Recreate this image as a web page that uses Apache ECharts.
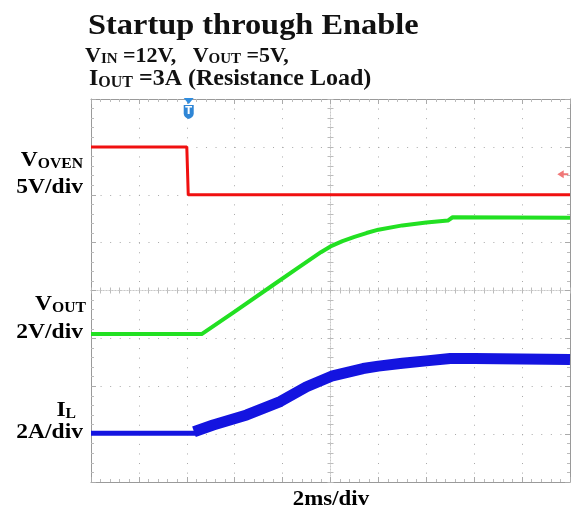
<!DOCTYPE html>
<html>
<head>
<meta charset="utf-8">
<script src="https://cdn.jsdelivr.net/npm/echarts@6/dist/echarts.min.js"></script>
<style>
html, body { margin: 0; padding: 0; background: #fff; }
#main { width: 573px; height: 510px; }
</style>
</head>
<body>
<div id="main"></div>
<script>
// x = time in divisions (2ms/div), y = level in divisions from screen bottom
var vovenTime = [0, 2.0, 2.03, 10];
var vovenLevel = [7.0, 7.0, 6.0, 6.0];

var voutTime = [0, 2.31, 3.0, 3.81, 4.29, 4.8, 5.0, 5.25, 5.5, 5.75, 6.0, 6.5, 7.0, 7.45, 7.55, 10];
var voutLevel = [3.09, 3.09, 3.56, 4.12, 4.45, 4.8, 4.92, 5.03, 5.12, 5.2, 5.27, 5.36, 5.42, 5.46, 5.53, 5.52];

var ilFlatTime = [0, 2.2];
var ilFlatLevel = [1.02, 1.02];
var ilTime = [2.15, 2.55, 3.25, 3.95, 4.5, 5.02, 5.68, 6.0, 6.5, 7.0, 7.5, 8, 9, 10];
var ilLevel = [1.05, 1.19, 1.40, 1.68, 1.99, 2.21, 2.37, 2.42, 2.48, 2.53, 2.58, 2.58, 2.57, 2.56];

var triggerTime = 2.04;
var refMarker = [9.85, 6.43];

function pairs(xs, ys) {
    return xs.map(function (x, i) { return [x, ys[i]]; });
}

var chart = echarts.init(document.getElementById('main'));

var serif = "'Liberation Serif', 'Times New Roman', serif";
var gridBox = { left: 91, top: 99, width: 479, height: 383 };

function borderAxis(pos, max, split) {
    return {
        type: 'value', gridIndex: 0, position: pos, min: 0, max: max, interval: 1,
        axisLine: { show: true, onZero: false, lineStyle: { color: '#9a9a9a', width: 1 } },
        axisTick: { show: true, inside: true, length: 5, lineStyle: { color: '#aaaaaa' } },
        minorTick: { show: true, splitNumber: 5, length: 3, lineStyle: { color: '#bbbbbb' } },
        splitLine: { show: split, lineStyle: { color: '#a8a8a8', width: 1, type: [1, 8.58] } },
        axisLabel: { show: false }
    };
}

function centerAxis(pos, half) {
    return {
        type: 'value', gridIndex: 1, position: pos, min: -half, max: half, interval: 1,
        axisLine: { show: true, onZero: true, lineStyle: { color: '#c8c8c8', width: 1, type: [1, 2] } },
        axisTick: { show: true, inside: false, length: 3, lineStyle: { color: '#b8b8b8' } },
        minorTick: { show: true, splitNumber: 5, length: 3, lineStyle: { color: '#bcbcbc' } },
        splitLine: { show: false },
        axisLabel: { show: false }
    };
}

var bold = function (size) {
    return { fontFamily: serif, fontWeight: 'bold', fontSize: size, color: '#111', verticalAlign: 'bottom' };
};

var option = {
    animation: false,
    backgroundColor: '#fff',
    grid: [
        Object.assign({}, gridBox),
        Object.assign({}, gridBox)
    ],
    xAxis: [
        borderAxis('bottom', 10, true),
        borderAxis('top', 10, false),
        centerAxis('bottom', 5),
        centerAxis('top', 5)
    ],
    yAxis: [
        borderAxis('left', 8, true),
        borderAxis('right', 8, false),
        centerAxis('left', 4),
        centerAxis('right', 4)
    ],
    series: [
        {
            name: 'VOVEN', type: 'line', xAxisIndex: 0, yAxisIndex: 0,
            data: pairs(vovenTime, vovenLevel),
            symbol: 'none', z: 5,
            lineStyle: { color: '#f01010', width: 3 },
            markPoint: {
                data: [
                    { coord: [triggerTime, 8], symbol: 'triangle', symbolRotate: 180, symbolSize: [10, 6], symbolOffset: [0, 2],
                      itemStyle: { color: '#2f8de0' }, label: { show: false } },
                    { coord: [triggerTime, 8], symbol: 'path://M0,0 L10,0 L10,9 Q10,13 5,15 Q0,13 0,9 Z', symbolSize: [10, 14], symbolOffset: [0, 13],
                      itemStyle: { color: '#2f86d6' },
                      label: { show: true, formatter: 'T', color: '#fff', fontWeight: 'bold', fontSize: 10, fontFamily: 'DejaVu Sans', offset: [0, -1] } },
                    { coord: refMarker, symbol: 'path://M0,4 L7,0 L7,3 L12,3 L12,5 L7,5 L7,8 Z', symbolSize: [11, 8],
                      itemStyle: { color: '#f07878' }, label: { show: false } }
                ]
            }
        },
        {
            name: 'VOUT', type: 'line', xAxisIndex: 0, yAxisIndex: 0,
            data: pairs(voutTime, voutLevel),
            symbol: 'none', z: 4,
            lineStyle: { color: '#22e022', width: 4, join: 'round' }
        },
        {
            name: 'IL', type: 'line', xAxisIndex: 0, yAxisIndex: 0,
            data: pairs(ilFlatTime, ilFlatLevel),
            symbol: 'none', z: 3,
            lineStyle: { color: '#1414e0', width: 5 }
        },
        {
            name: 'IL ripple', type: 'line', xAxisIndex: 0, yAxisIndex: 0,
            data: pairs(ilTime, ilLevel),
            symbol: 'none', z: 3,
            lineStyle: { color: '#1414e0', width: 11, join: 'round' }
        }
    ],
    graphic: [
        { type: 'text', x: 88, y: 26, scaleX: 1.08,
          style: { text: 'Startup through Enable', font: 'bold 30px ' + serif, fill: '#111', verticalAlign: 'middle' } },
        { type: 'text', x: 85, y: 56,
          style: { text: '{b|V}{s|IN}{b| =12V,   V}{s|OUT}{b| =5V,}', verticalAlign: 'middle', fill: '#111',
                   rich: { b: bold(22), s: bold(15) } } },
        { type: 'text', x: 89, y: 79,
          style: { text: '{b|I}{s|OUT}{b| =3A (Resistance Load)}', verticalAlign: 'middle', fill: '#111',
                   rich: { b: bold(24), s: bold(16) } } },
        { type: 'text', x: 83, y: 161, scaleX: 1.12, style: { text: '{b|V}{s|OVEN}', align: 'right', verticalAlign: 'middle', rich: { b: bold(21), s: bold(14) } } },
        { type: 'text', x: 83, y: 188, scaleX: 1.12, style: { text: '{b|5V/div}', align: 'right', verticalAlign: 'middle', rich: { b: bold(21) } } },
        { type: 'text', x: 86, y: 305, scaleX: 1.12, style: { text: '{b|V}{s|OUT}', align: 'right', verticalAlign: 'middle', rich: { b: bold(21), s: bold(14) } } },
        { type: 'text', x: 83, y: 333, scaleX: 1.12, style: { text: '{b|2V/div}', align: 'right', verticalAlign: 'middle', rich: { b: bold(21) } } },
        { type: 'text', x: 76, y: 411, scaleX: 1.12, style: { text: '{b|I}{s|L}', align: 'right', verticalAlign: 'middle', rich: { b: bold(21), s: bold(14) } } },
        { type: 'text', x: 83, y: 433, scaleX: 1.12, style: { text: '{b|2A/div}', align: 'right', verticalAlign: 'middle', rich: { b: bold(21) } } },
        { type: 'text', x: 331, y: 500, scaleX: 1.09, style: { text: '{b|2ms/div}', align: 'center', verticalAlign: 'middle', rich: { b: bold(21) } } }
    ]
};

chart.setOption(option);
</script>
</body>
</html>
